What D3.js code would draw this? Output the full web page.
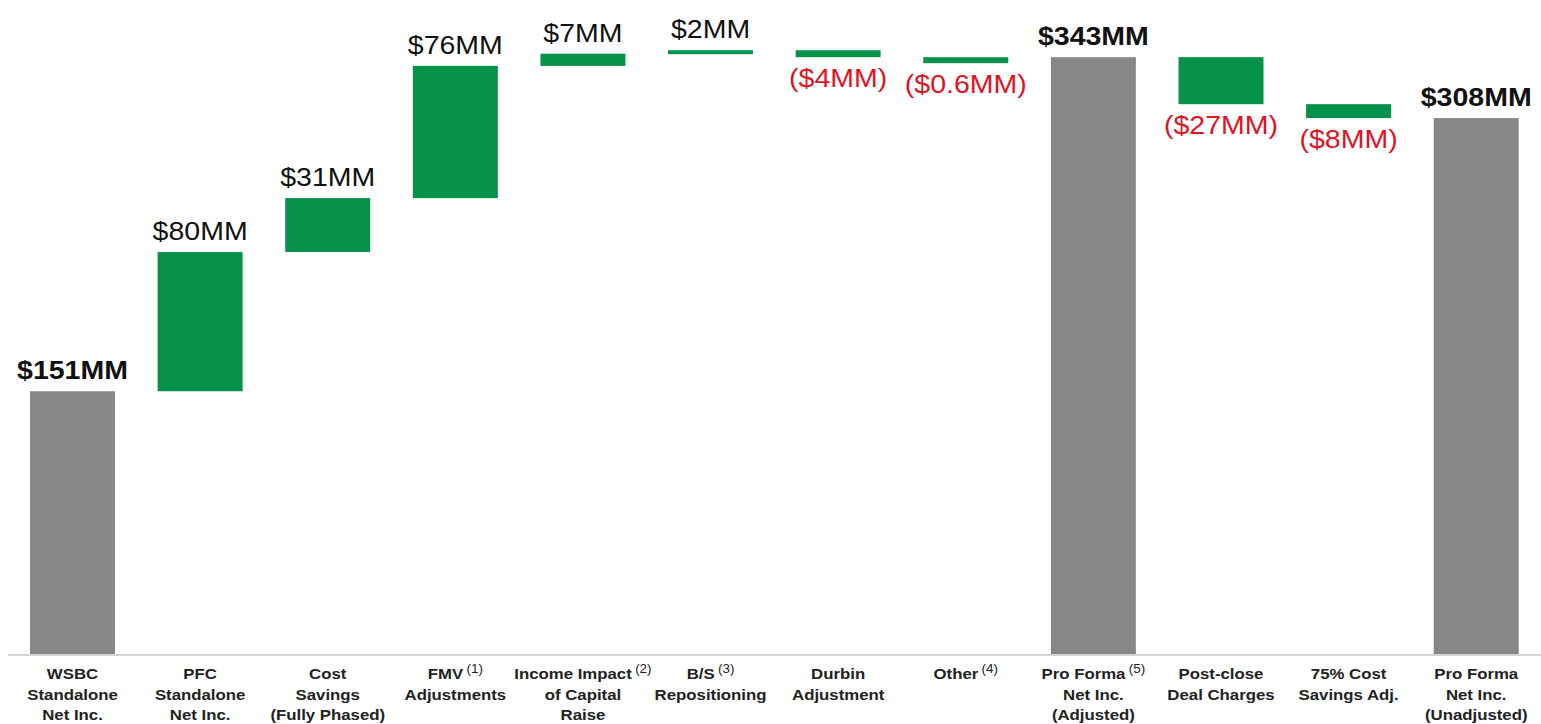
<!DOCTYPE html>
<html>
<head>
<meta charset="utf-8">
<script src="https://cdn.jsdelivr.net/npm/d3@7"></script>
<style>
  html, body { margin: 0; padding: 0; background: #fff; }
  svg { display: block; font-family: "Liberation Sans", Arial, Helvetica, sans-serif; }
</style>
</head>
<body>
<svg id="chart" width="1541" height="724"></svg>
<script>
// Net income bridge: WSBC standalone to pro forma combined ($MM)
const categoryLines = [
  ["WSBC", "Standalone", "Net Inc."],
  ["PFC", "Standalone", "Net Inc."],
  ["Cost", "Savings", "(Fully Phased)"],
  ["FMV", "Adjustments"],
  ["Income Impact", "of Capital", "Raise"],
  ["B/S", "Repositioning"],
  ["Durbin", "Adjustment"],
  ["Other"],
  ["Pro Forma", "Net Inc.", "(Adjusted)"],
  ["Post-close", "Deal Charges"],
  ["75% Cost", "Savings Adj."],
  ["Pro Forma", "Net Inc.", "(Unadjusted)"]
];
const footnotes = ["", "", "", "(1)", "(2)", "(3)", "", "(4)", "(5)", "", "", ""];
const values = [151, 80, 31, 76, 7, 2, -4, -0.6, 343, -27, -8, 308];
const kinds = ["total", "delta", "delta", "delta", "delta", "delta", "delta", "delta", "total", "delta", "delta", "total"];
const valueLabels = ["$151MM", "$80MM", "$31MM", "$76MM", "$7MM", "$2MM", "($4MM)", "($0.6MM)", "$343MM", "($27MM)", "($8MM)", "$308MM"];

const GREEN = "#06924a", GREY = "#878787", RED = "#e0141f";
const SX = 1.14; // horizontal text stretch

const svg = d3.select("#chart");
const baseY = 654;

const x = d3.scaleBand()
  .domain(d3.range(values.length))
  .range([8.7, 1540])
  .paddingInner(0.334)
  .paddingOuter(0.167);

const y = d3.scaleLinear().domain([0, 375]).range([baseY, 1.5]);

// running totals for floating bars
let running = 0;
const bars = values.map((v, i) => {
  let lo, hi;
  if (kinds[i] === "total") { lo = 0; hi = v; running = v; }
  else { const s = running; running += v; lo = Math.min(s, running); hi = Math.max(s, running); }
  return { i, v, kind: kinds[i], lo, hi, label: valueLabels[i] };
});

// keep very small steps visible
const MIN_H = 4;
bars.forEach(b => {
  b.top = y(b.hi);
  b.bottom = Math.max(y(b.lo), b.top + (b.v < 0 ? 6 : MIN_H));
});

// baseline
svg.append("line")
  .attr("x1", 8).attr("x2", 1541)
  .attr("y1", baseY + 1).attr("y2", baseY + 1)
  .attr("stroke", "#d3d3d3").attr("stroke-width", 2);

// bars
svg.append("g").selectAll("rect").data(bars).join("rect")
  .attr("x", d => x(d.i))
  .attr("width", x.bandwidth())
  .attr("y", d => d.top)
  .attr("height", d => d.bottom - d.top)
  .attr("fill", d => d.kind === "total" ? GREY : GREEN);

// value labels
const vl = svg.append("g").selectAll("g").data(bars).join("g")
  .attr("transform", d => {
    const cx = x(d.i) + x.bandwidth() / 2;
    const ly = d.v < 0 ? d.bottom + 30 : d.top - 12;
    return `translate(${cx},${ly}) scale(${SX},1)`;
  });
vl.append("text")
  .attr("text-anchor", "middle")
  .attr("font-size", 25)
  .attr("font-weight", d => d.kind === "total" ? "bold" : "normal")
  .attr("fill", d => d.v < 0 ? RED : "#111")
  .text(d => d.label);

// category labels
const lineY = [679, 699.5, 720];
const cat = svg.append("g").selectAll("g").data(categoryLines.map((lines, i) => ({ lines, i })))
  .join("g")
  .attr("transform", d => `translate(${x(d.i) + x.bandwidth() / 2},0)`);

cat.each(function(d) {
  const g = d3.select(this);
  d.lines.forEach((line, k) => {
    const t = g.append("g")
      .attr("transform", `translate(0,${lineY[k]}) scale(1.12,1)`)
      .append("text")
      .attr("text-anchor", "middle")
      .attr("font-size", 15)
      .attr("font-weight", "bold")
      .attr("fill", "#222");
    t.append("tspan").text(line);
    if (k === 0 && footnotes[d.i]) {
      t.append("tspan")
        .attr("dx", 3)
        .attr("dy", -6)
        .attr("font-size", 12)
        .attr("font-weight", "normal")
        .text(footnotes[d.i]);
    }
  });
});
</script>
</body>
</html>
